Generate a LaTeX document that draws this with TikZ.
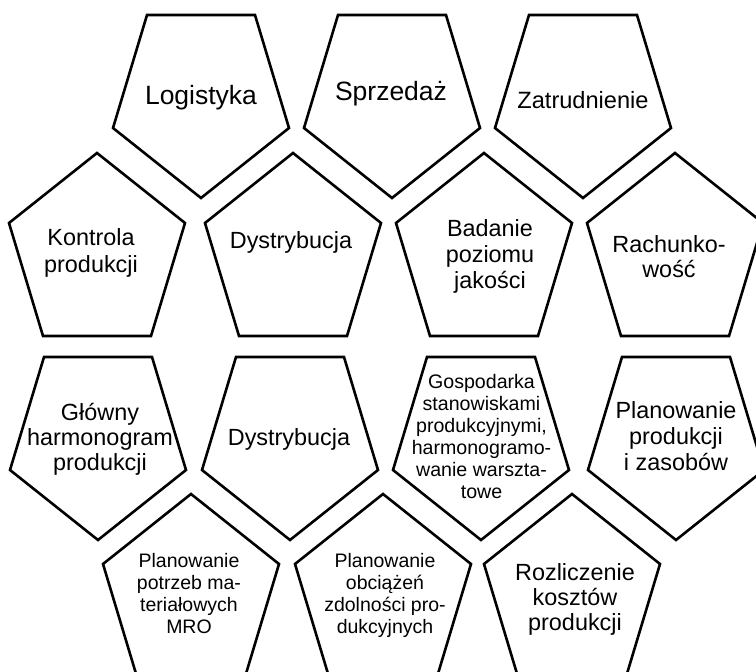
\documentclass[tikz,border=0pt]{standalone}
\usepackage{fontspec}
\setmainfont{Liberation Sans}
\newcommand\pentdown[2]{\draw[pent] ({#1-54},{#2}) -- ({#1+54},{#2}) -- ({#1+88},{#2+113}) -- ({#1},{#2+183}) -- ({#1-88},{#2+113}) -- cycle;}
\newcommand\pentup[2]{\draw[pent] ({#1},{#2}) -- ({#1+88},{#2+70}) -- ({#1+54},{#2+183}) -- ({#1-54},{#2+183}) -- ({#1-88},{#2+70}) -- cycle;}
\tikzset{
  pent/.style={line width=2.6pt, line join=miter, black},
  lbl/.style={anchor=base, align=center, inner sep=0pt},
  big/.style={lbl, font=\fontsize{26.5}{30}\selectfont},
  mid/.style={lbl, font=\fontsize{23.4}{#1}\selectfont},
  small/.style={lbl, font=\fontsize{19.5}{#1}\selectfont}
}
\begin{document}
\begin{tikzpicture}[x=1pt,y=-1pt]
\useasboundingbox (0,0) rectangle (756,672);
\clip (0,0) rectangle (756,672);
% row 1 (pointing down)
\pentdown{201}{15}
\pentdown{392}{15}
\pentdown{583}{15}
% row 2 (pointing up)
\pentup{97}{153}
\pentup{293}{153}
\pentup{484}{153}
\pentup{675}{153}
% row 3 (pointing down)
\pentdown{98}{357}
\pentdown{290}{357}
\pentdown{481}{357}
\pentdown{676}{357}
% row 4 (pointing up)
\pentup{191}{494}
\pentup{383}{494}
\pentup{572}{494}
% labels (anchored at the baseline of the last line)
\node[big] (logistyka) at (201,104) {Logistyka};
\node[big] (sprzedaz) at (391,100) {Sprzedaż};
\node[mid=27, font=\fontsize{23.6}{27}\selectfont] (zatrudnienie) at (583,108) {Zatrudnienie};
\node[mid=27] (kontrola) at (91,272) {Kontrola\\produkcji};
\node[mid=27] (dystr1) at (291,248) {Dystrybucja};
\node[mid=26] (badanie) at (490,288) {Badanie\\poziomu\\jakości};
\node[mid=25] (rachunkowosc) at (669,277) {Rachunko-\\wość};
\node[mid=25] (glowny) at (100,470) {Główny\\harmonogram\\produkcji};
\node[mid=25] (dystr2) at (289,445) {Dystrybucja};
\node[small=22, font=\fontsize{19.6}{22}\selectfont] (gospodarka) at (481.5,498) {Gospodarka\\stanowiskami\\produkcyjnymi,\\harmonogramo-\\wanie warszta-\\towe};
\node[mid=26] (planprod) at (676,470) {Planowanie\\produkcji\\i zasobów};
\node[small=21.7] (mro) at (189,633) {Planowanie\\potrzeb ma-\\teriałowych\\MRO};
\node[small=22] (obciazen) at (385,633) {Planowanie\\obciążeń\\zdolności pro-\\dukcyjnych};
\node[mid=25] (rozliczenie) at (575,630) {Rozliczenie\\kosztów\\produkcji};
\end{tikzpicture}
\end{document}
